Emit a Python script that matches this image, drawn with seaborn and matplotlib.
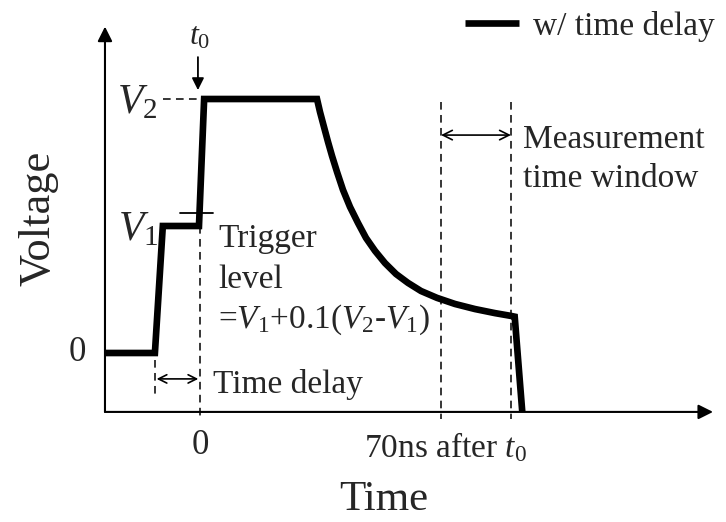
import matplotlib
matplotlib.use("Agg")
import matplotlib.pyplot as plt
import seaborn as sns
import pandas as pd

# Pulse waveform (time in ns relative to t0, voltage normalised to V2)
time_ns = [-27.6, -13.1, -10.8, -0.3, 1.2,
           33.98, 34.85, 36.01, 37.18, 38.34, 39.79, 41.53, 43.57, 45.89,
           48.21, 50.83, 53.73, 56.93, 60.41, 64.19, 68.84, 74.06, 79.87,
           85.68, 90.33, 91.4, 93.6]
voltage = [0.0, 0.0, 0.5, 0.5, 1.0,
           1.000, 0.949, 0.890, 0.831, 0.776, 0.713, 0.642, 0.575, 0.512,
           0.453, 0.402, 0.354, 0.311, 0.276, 0.244, 0.217, 0.193, 0.173,
           0.157, 0.146, 0.143, -0.232]

V1 = 0.5
V2 = 1.0
trigger_level = V1 + 0.1 * (V2 - V1)
delay_start = -13.1          # start of the first rise
window = [70.0, 90.3]        # measurement time window (ns after t0)
series_label = "w/ time delay"

df = pd.DataFrame({"Time": time_ns, "Voltage": voltage})

sns.set_theme(style="white")
plt.rcParams["font.family"] = ["Liberation Serif", "DejaVu Serif"]
plt.rcParams["mathtext.fontset"] = "custom"
plt.rcParams["mathtext.rm"] = "Liberation Serif"
plt.rcParams["mathtext.it"] = "Liberation Serif:italic"

fig = plt.figure(figsize=(7.26, 5.22), dpi=100)
ax = fig.add_axes([0, 0, 1, 1])
ax.set_xlim(-58.09, 152.77)
ax.set_ylim(-0.6654, 1.3898)
ax.axis("off")

x0, y0 = -27.6, -0.232   # axis origin
K = "black"

# axes with arrow heads
ax.annotate("", xy=(149.0, y0), xytext=(x0, y0),
            arrowprops=dict(arrowstyle="-|>", color=K, lw=1.5,
                            mutation_scale=22, shrinkA=0, shrinkB=0))
ax.annotate("", xy=(x0, 1.285), xytext=(x0, y0),
            arrowprops=dict(arrowstyle="-|>", color=K, lw=1.5,
                            mutation_scale=22, shrinkA=0, shrinkB=0))

dash = (0, (5, 3.5))
# guide lines
ax.plot([0, 0], [V1, -0.26], color=K, lw=1.1, ls=dash)
for w in window:
    ax.plot([w, w], [0.988, -0.26], color=K, lw=1.1, ls=dash)
ax.plot([delay_start, delay_start], [-0.028, -0.165], color=K, lw=1.1, ls=dash)
ax.plot([-10.7, 0], [V2, V2], color=K, lw=1.1, ls=dash)
ax.plot([-5.8, 3.8], [trigger_level, trigger_level], color=K, lw=1.3)

# waveform
sns.lineplot(data=df, x="Time", y="Voltage", ax=ax, sort=False, estimator=None,
             color=K, lw=4.8, legend=False)
ax.lines[-1].set_solid_joinstyle("miter")
ax.lines[-1].set_solid_capstyle("butt")

# legend sample
ax.plot([77.0, 92.7], [1.299, 1.299], color=K, lw=4.8, solid_capstyle="butt")
ax.text(96.7, 1.252, series_label, fontsize=24, ha="left", va="baseline")

# arrows
ax.annotate("", xy=(-0.6, 1.035), xytext=(-0.6, 1.165),
            arrowprops=dict(arrowstyle="-|>", color=K, lw=1.3,
                            mutation_scale=18, shrinkA=0, shrinkB=0))
ax.annotate("", xy=(-0.5, -0.102), xytext=(delay_start + 0.5, -0.102),
            arrowprops=dict(arrowstyle="<->", color=K, lw=1.2,
                            mutation_scale=15, shrinkA=0, shrinkB=0))
ax.annotate("", xy=(window[1], 0.858), xytext=(window[0], 0.858),
            arrowprops=dict(arrowstyle="<->", color=K, lw=1.2,
                            mutation_scale=17, shrinkA=0, shrinkB=0))

# labels
ax.text(0, 1.213, r"$t_0$", fontsize=23, ha="center", va="baseline")
ax.text(-24.1, 0.945, r"$V_2$", fontsize=30, ha="left", va="baseline")
ax.text(-23.8, 0.445, r"$V_1$", fontsize=30, ha="left", va="baseline")
ax.text(-35.7, 0.0, "0", fontsize=25, ha="center", va="center")
ax.text(0, -0.366, "0", fontsize=25, ha="center", va="center")
ax.text(71.2, -0.409, r"70ns after $t_0$", fontsize=24, ha="center", va="baseline")
ax.text(53.4, -0.618, "Time", fontsize=31, ha="center", va="baseline")
ax.text(-41.2, 0.531, "Voltage", fontsize=32, ha="right", va="center", rotation=90)
ax.text(5.2, 0.417, "Trigger", fontsize=24, ha="left", va="baseline")
ax.text(5.2, 0.256, "level", fontsize=24, ha="left", va="baseline")
ax.text(5.2, 0.098, r"=$V_1$+0.1($V_2$-$V_1$)", fontsize=24, ha="left", va="baseline")
ax.text(3.8, -0.157, "Time delay", fontsize=24, ha="left", va="baseline")
ax.text(93.8, 0.807, "Measurement", fontsize=24, ha="left", va="baseline")
ax.text(93.8, 0.654, "time window", fontsize=24, ha="left", va="baseline")

fig.savefig("out.png", dpi=100)
